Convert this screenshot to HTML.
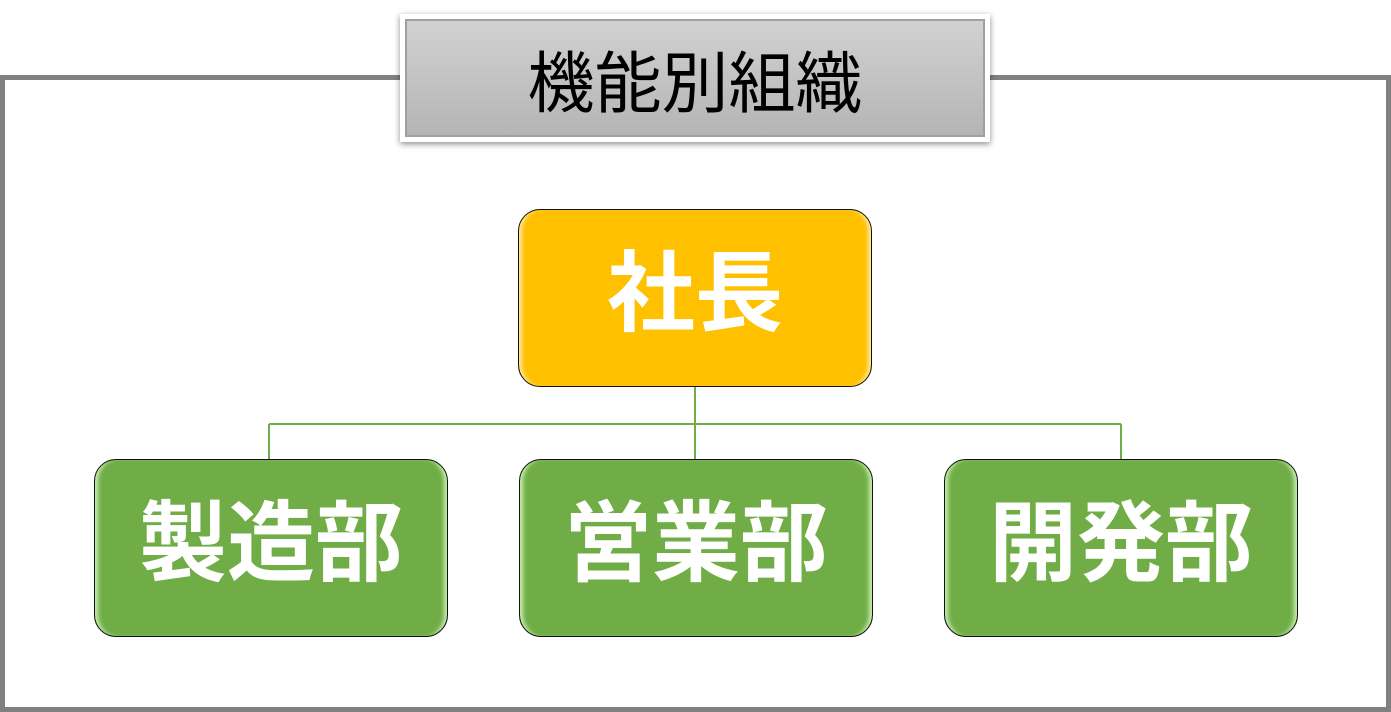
<!DOCTYPE html>
<html><head><meta charset="utf-8"><style>
body{margin:0;width:1391px;height:712px;background:#fff;position:relative;overflow:hidden;font-family:"Liberation Sans","Noto Sans CJK JP",sans-serif}
.frame{position:absolute;left:0;top:75px;width:1381px;height:627px;border:5px solid #808080}
.title{position:absolute;left:400px;top:14px;width:580px;height:118px;border:5px solid #fff;background:linear-gradient(#d2d2d2,#b4b4b4);box-shadow:0 2px 6px rgba(0,0,0,.45),inset 0 0 0 2px #a0a0a0;display:flex;align-items:center;justify-content:center;font-size:67px;color:#000;line-height:1;box-sizing:content-box;padding-top:0}
.title span{position:relative;top:6px}
.box{position:absolute;width:354px;height:178px;border:1.5px solid #111;border-radius:22px;display:flex;align-items:center;justify-content:center;color:#fff;font-weight:bold;font-size:88px;line-height:1;box-sizing:border-box;padding-bottom:8px}
.g{background:#70ad47;box-shadow:inset 6px 0 4px -3px #c9efb0,inset -6px 0 4px -3px #c9efb0}
.y{background:#ffc000;box-shadow:inset 6px 0 4px -3px #ffe9a0,inset -6px 0 4px -3px #ffe9a0}
</style></head><body>
<div class="frame"></div>
<div class="title"><span>機能別組織</span></div>
<svg style="position:absolute;left:0;top:0" width="1391" height="712">
<g stroke="#70ad47" stroke-width="2" fill="none">
<path d="M695 387V459M269 424H1121M269 424V459M1121 424V459"/>
</g></svg>
<div class="box y" style="left:518px;top:209px">社長</div>
<div class="box g" style="left:94px;top:459px">製造部</div>
<div class="box g" style="left:519px;top:459px">営業部</div>
<div class="box g" style="left:944px;top:459px">開発部</div>
</body></html>
